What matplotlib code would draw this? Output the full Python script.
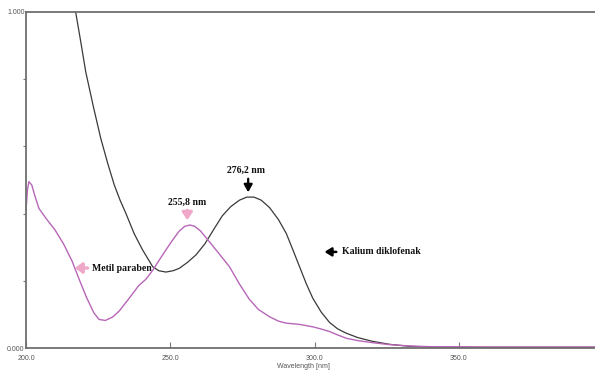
import matplotlib
matplotlib.use("Agg")
import matplotlib.pyplot as plt

# Kalium diklofenak (black) spectrum
kd_wl = [214.0, 217.2, 219.0, 220.7, 223.3, 225.9, 228.3, 230.6, 232.6, 234.6, 237.5, 240.4,
         243.9, 246.0, 248.5, 251.0, 253.1, 256.0, 258.9, 262.0, 265.0, 268.0, 271.0, 274.0,
         276.5, 279.0, 281.5, 284.4, 287.5, 290.2, 292.5, 294.8, 297.1, 299.4, 302.3, 305.2,
         308.0, 311.0, 315.0, 320.0, 326.0, 333.0, 340.0, 360.0, 397.0]
kd_abs = [1.13, 1.00, 0.91, 0.822, 0.720, 0.624, 0.550, 0.485, 0.440, 0.401, 0.340, 0.292,
          0.242, 0.230, 0.226, 0.230, 0.237, 0.255, 0.277, 0.310, 0.352, 0.393, 0.421, 0.440,
          0.449, 0.449, 0.440, 0.418, 0.382, 0.341, 0.292, 0.242, 0.192, 0.148, 0.107, 0.076,
          0.057, 0.044, 0.031, 0.020, 0.011, 0.005, 0.003, 0.002, 0.002]

# Metil paraben (pink) spectrum
mp_wl = [200.0, 200.5, 201.0, 202.0, 203.0, 204.5, 207.0, 210.0, 213.0, 216.0, 218.4, 221.0,
         223.5, 225.3, 227.5, 230.0, 232.3, 235.5, 239.0, 241.6, 244.0, 246.2, 248.5, 250.8,
         253.0, 255.0, 256.8, 258.5, 260.5, 263.0, 266.5, 270.5, 274.0, 277.4, 280.5, 284.4,
         287.5, 290.2, 295.0, 299.4, 302.5, 305.2, 308.0, 311.0, 315.0, 320.0, 326.0, 333.0,
         340.0, 360.0, 397.0]
mp_abs = [0.410, 0.470, 0.495, 0.485, 0.455, 0.415, 0.385, 0.352, 0.310, 0.258, 0.205, 0.150,
          0.105, 0.085, 0.082, 0.092, 0.110, 0.145, 0.185, 0.205, 0.232, 0.262, 0.292, 0.321,
          0.347, 0.362, 0.366, 0.362, 0.348, 0.322, 0.285, 0.242, 0.190, 0.145, 0.115, 0.093,
          0.080, 0.074, 0.070, 0.063, 0.056, 0.049, 0.039, 0.029, 0.022, 0.016, 0.010, 0.006,
          0.004, 0.003, 0.003]

x_ticks = [200, 250, 300, 350]
x_labels = ["200.0", "250.0", "300.0", "350.0"]
y_ticks = [0.0, 1.0]
y_labels = ["0.000", "1.000"]
y_minor = [0.2, 0.4, 0.6, 0.8]

fig = plt.figure(figsize=(5.95, 3.73), dpi=100)
ax = fig.add_axes([0.0437, 0.067, 0.9563, 0.901])
ax.set_xlim(200, 397.2)
ax.set_ylim(0, 1.0)

ax.plot(kd_wl, kd_abs, color="#3a3a3a", lw=0.9)
ax.plot(mp_wl, mp_abs, color="#b866b8", lw=1.0)

for s in ["left", "bottom", "top"]:
    ax.spines[s].set_color("#6f6f6f")
    ax.spines[s].set_linewidth(1.3)
ax.spines["right"].set_visible(False)

ax.set_xticks(x_ticks)
ax.set_xticklabels(x_labels, fontsize=5, color="#555555", family="Liberation Sans")
ax.set_yticks(y_ticks)
ax.set_yticklabels(y_labels, fontsize=5, color="#555555", family="Liberation Sans")
ax.set_yticks(y_minor, minor=True)
ax.tick_params(axis="x", direction="in", length=4, width=0.8, color="#777777", pad=5)
ax.tick_params(axis="y", which="major", length=0, pad=1)
ax.tick_params(axis="y", which="minor", direction="out", length=2, width=0.8, color="#777777")
ax.set_xlabel("Wavelength [nm]", fontsize=5, color="#555555", family="Liberation Sans", labelpad=0)
ax.xaxis.set_label_coords(0.487, -0.045)

tfont = dict(family="Liberation Serif", weight="bold", fontsize=7, color="#111111")

# peak annotations
ax.text(276.2, 0.515, "276,2 nm", ha="center", va="bottom", **tfont)
ax.annotate("", xy=(277.0, 0.455), xytext=(277.0, 0.512),
            arrowprops=dict(arrowstyle="-|>,head_width=0.25,head_length=0.45", color="black", lw=1.6))
ax.text(255.8, 0.420, "255,8 nm", ha="center", va="bottom", **tfont)
ax.annotate("", xy=(255.9, 0.372), xytext=(255.9, 0.418),
            arrowprops=dict(arrowstyle="-|>,head_width=0.3,head_length=0.45", color="#f0a8c8", lw=2.2))

ax.annotate("", xy=(302.5, 0.286), xytext=(308.5, 0.286),
            arrowprops=dict(arrowstyle="-|>,head_width=0.25,head_length=0.4", color="black", lw=1.8))
ax.text(309.5, 0.286, "Kalium diklofenak", ha="left", va="center", **tfont)

ax.annotate("", xy=(216.0, 0.238), xytext=(222.3, 0.238),
            arrowprops=dict(arrowstyle="-|>,head_width=0.3,head_length=0.4", color="#f0a8c8", lw=2.4))
ax.text(223.0, 0.238, "Metil paraben", ha="left", va="center", **tfont)

fig.savefig("out.png", dpi=100)
